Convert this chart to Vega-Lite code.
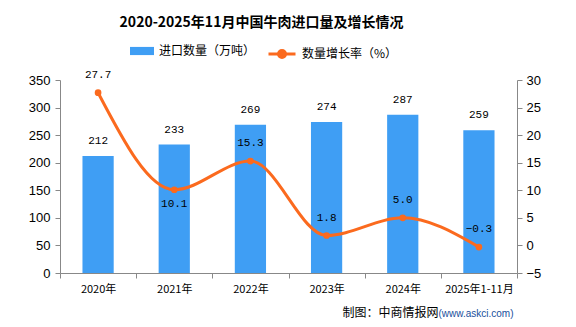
{
  "$schema": "https://vega.github.io/schema/vega-lite/v6.json",
  "width": 457,
  "height": 193,
  "autosize": {"type": "none"},
  "padding": {"left": 60, "top": 80, "right": 59, "bottom": 54},
  "background": "white",
  "title": {
    "text": "2020-2025年11月中国牛肉进口量及增长情况",
    "font": "Noto Sans CJK SC",
    "fontSize": 14,
    "fontWeight": "bold",
    "color": "black",
    "anchor": "middle",
    "dx": -27,
    "offset": 9
  },
  "config": {
    "view": {"stroke": null},
    "axis": {
      "domainColor": "#888888",
      "tickColor": "#888888",
      "grid": false,
      "labelColor": "black"
    }
  },
  "data": {
    "values": [
      {"year": "2020年", "qty": 212, "rate": 27.7},
      {"year": "2021年", "qty": 233, "rate": 10.1},
      {"year": "2022年", "qty": 269, "rate": 15.3},
      {"year": "2023年", "qty": 274, "rate": 1.8},
      {"year": "2024年", "qty": 287, "rate": 5.0},
      {"year": "2025年1-11月", "qty": 259, "rate": -0.3}
    ]
  },
  "encoding": {
    "x": {
      "field": "year",
      "type": "nominal",
      "sort": null,
      "scale": {"paddingInner": 0, "paddingOuter": 0},
      "axis": {
        "labelAngle": 0,
        "labelFont": "Noto Sans CJK SC",
        "labelFontSize": 11,
        "labelPadding": 5,
        "tickBand": "extent",
        "tickSize": 5,
        "title": "制图：中商情报网",
        "titleFont": "Noto Sans CJK SC",
        "titleFontSize": 12,
        "titleFontWeight": "normal",
        "titleColor": "black",
        "titleX": 378,
        "titleY": 39,
        "titleAlign": "right",
        "titleBaseline": "middle"
      }
    }
  },
  "layer": [
    {
      "encoding": {
        "y": {
          "field": "qty",
          "type": "quantitative",
          "scale": {"domain": [0, 350], "nice": false},
          "axis": {
            "values": [0, 50, 100, 150, 200, 250, 300, 350],
            "labelFont": "Liberation Sans",
            "labelFontSize": 13,
            "labelPadding": 5,
            "tickSize": 5,
            "title": "(www.askci.com)",
            "titleAngle": 0,
            "titleX": 453,
            "titleY": 233,
            "titleAlign": "right",
            "titleBaseline": "middle",
            "titleFont": "Liberation Sans",
            "titleFontSize": 10,
            "titleFontWeight": "normal",
            "titleColor": "#1a4f9c"
          }
        }
      },
      "layer": [
        {
          "mark": {"type": "bar", "width": {"band": 0.41}},
          "encoding": {
            "fill": {
              "datum": "进口数量（万吨）",
              "type": "nominal",
              "scale": {"range": ["#3f9ef4"]},
              "legend": {
                "orient": "none",
                "legendX": 70,
                "legendY": -41,
                "title": null,
                "symbolType": "M-1,-0.34H1V0.34H-1Z",
                "symbolSize": 576,
                "symbolStrokeWidth": 0,
                "labelFont": "Noto Sans CJK SC",
                "labelFontSize": 12,
                "labelColor": "black",
                "labelOffset": 5
              }
            }
          }
        },
        {
          "mark": {"type": "text", "dy": -15, "font": "Liberation Mono", "fontSize": 11, "color": "black"},
          "encoding": {"text": {"field": "qty", "type": "quantitative"}}
        }
      ]
    },
    {
      "encoding": {
        "y": {
          "field": "rate",
          "type": "quantitative",
          "scale": {"domain": [-5, 30], "nice": false},
          "axis": {
            "orient": "right",
            "values": [-5, 0, 5, 10, 15, 20, 25, 30],
            "labelFont": "Liberation Sans",
            "labelFontSize": 13,
            "labelPadding": 4,
            "tickSize": 5,
            "title": null
          }
        }
      },
      "layer": [
        {
          "mark": {"type": "line", "interpolate": "monotone", "strokeWidth": 3},
          "encoding": {
            "stroke": {
              "datum": "数量增长率（%）",
              "type": "nominal",
              "scale": {"range": ["#fb6a1e"]},
              "legend": {
                "orient": "none",
                "legendX": 207,
                "legendY": -41,
                "title": null,
                "symbolType": "M-1,0H1M0.26,0A0.26,0.26 0 1 1 -0.26,0A0.26,0.26 0 1 1 0.26,0",
                "symbolSize": 729,
                "symbolStrokeWidth": 3,
                "symbolFillColor": "#fb6a1e",
                "labelFont": "Noto Sans CJK SC",
                "labelFontSize": 12,
                "labelColor": "black",
                "labelOffset": 5
              }
            }
          }
        },
        {
          "mark": {"type": "circle", "size": 45, "color": "#fb6a1e", "opacity": 1}
        },
        {
          "transform": [{"filter": "datum.year != '2021年'"}],
          "mark": {"type": "text", "dy": -18, "font": "Liberation Mono", "fontSize": 11, "color": "black"},
          "encoding": {"text": {"field": "rate", "type": "quantitative", "format": ".1f"}}
        },
        {
          "transform": [{"filter": "datum.year == '2021年'"}],
          "mark": {"type": "text", "dy": 14, "font": "Liberation Mono", "fontSize": 11, "color": "black"},
          "encoding": {"text": {"field": "rate", "type": "quantitative", "format": ".1f"}}
        }
      ]
    }
  ],
  "resolve": {"scale": {"y": "independent"}}
}
